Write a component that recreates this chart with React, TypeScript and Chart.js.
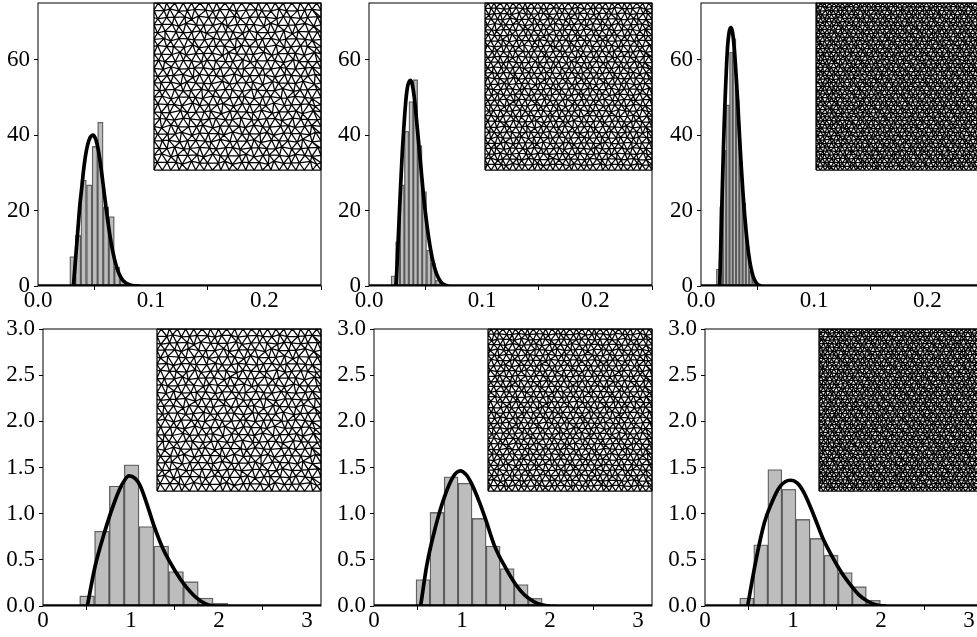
import React, { useEffect, useRef } from "react";
import { Chart, registerables } from "chart.js";

Chart.register(...registerables);

// ---- tick lists ----
const topXTicks = [0, 0.1, 0.2];
const topYTicks = [0, 20, 40, 60];
const bottomXTicks = [0, 1, 2, 3];
const bottomYTicks = [0, 0.5, 1, 1.5, 2, 2.5, 3];

// ---- panel A (top left) ----
const aBinX = [0.0305, 0.0354, 0.0403, 0.0453, 0.0502, 0.0551, 0.0601, 0.065, 0.0699, 0.0749];
const aBinY = [7.8, 13.4, 28.1, 26.8, 37, 43.4, 21, 18.4, 5, 1.6];
const aCurveX = [0.0313, 0.033, 0.035, 0.037, 0.039, 0.04, 0.042, 0.044, 0.046, 0.0484, 0.051, 0.053, 0.055, 0.0575, 0.06, 0.0625, 0.065, 0.0675, 0.07, 0.0725, 0.075, 0.08, 0.085, 0.09];
const aCurveY = [0, 6.5, 14, 21.5, 27, 30, 34.6, 37.6, 39.3, 40, 38.9, 36.5, 32.8, 27, 21, 15.5, 10.8, 7.2, 4.5, 2.7, 1.5, 0.4, 0.05, 0];

// ---- panel B (top middle) ----
const bBinX = [0.0214, 0.0254, 0.0293, 0.0332, 0.0372, 0.0411, 0.045, 0.0489, 0.0529, 0.0568, 0.0607];
const bBinY = [2.7, 11.7, 26.8, 41, 48.9, 54.7, 37.2, 25, 9.5, 6, 1.5];
const bCurveX = [0.0239, 0.025, 0.0265, 0.028, 0.0295, 0.031, 0.0325, 0.034, 0.0355, 0.0369, 0.0385, 0.04, 0.042, 0.044, 0.046, 0.048, 0.05, 0.052, 0.054, 0.056, 0.058, 0.06, 0.0625, 0.065, 0.07];
const bCurveY = [0, 7, 17, 27, 36, 43, 49, 52.7, 54.2, 54.5, 53, 50, 44, 37.5, 31, 24.5, 19, 14.3, 10.4, 7.2, 4.8, 3, 1.5, 0.6, 0];

// ---- panel C (top right) ----
const cBinX = [0.015, 0.0179, 0.0208, 0.0237, 0.0266, 0.0295, 0.0324, 0.0353, 0.0382, 0.0411, 0.044, 0.0469];
const cBinY = [4.5, 21, 36, 48, 62, 65.6, 49.4, 33, 22, 10, 4, 1.6];
const cCurveX = [0.0165, 0.0175, 0.0185, 0.0195, 0.0205, 0.0215, 0.0225, 0.0235, 0.025, 0.0265, 0.028, 0.0295, 0.031, 0.0325, 0.034, 0.0355, 0.037, 0.0385, 0.04, 0.042, 0.044, 0.046, 0.048, 0.05, 0.053];
const cCurveY = [0, 11, 22, 33, 43, 51, 58, 63.5, 67.5, 68.5, 67, 62.5, 56, 48.5, 40, 32, 25, 19, 14, 8.7, 5, 2.6, 1.2, 0.4, 0];

// ---- panel D (bottom left) ----
const dBinX = [0.501, 0.67, 0.838, 1.007, 1.176, 1.344, 1.513, 1.681, 1.85, 2.019];
const dBinY = [0.109, 0.81, 1.3, 1.53, 0.86, 0.65, 0.373, 0.264, 0.087, 0.029];
const dCurveX = [0.504, 0.59, 0.7, 0.807, 0.89, 0.977, 1.05, 1.106, 1.2, 1.261, 1.364, 1.515, 1.6, 1.742, 1.856, 1.95];
const dCurveY = [0, 0.42, 0.8, 1.11, 1.3, 1.41, 1.38, 1.3, 1.05, 0.87, 0.62, 0.36, 0.24, 0.09, 0.02, 0];

// ---- panel E (bottom middle) ----
const eBinX = [0.557, 0.716, 0.876, 1.035, 1.195, 1.354, 1.514, 1.673, 1.833, 1.992];
const eBinY = [0.286, 1.014, 1.4, 1.33, 0.949, 0.649, 0.406, 0.232, 0.083, 0.018];
const eCurveX = [0.53, 0.6, 0.7, 0.8, 0.9, 0.981, 1.05, 1.106, 1.2, 1.265, 1.371, 1.504, 1.617, 1.7, 1.758, 1.85, 1.95, 2.0];
const eCurveY = [0, 0.44, 0.86, 1.18, 1.4, 1.464, 1.42, 1.33, 1.12, 0.949, 0.649, 0.4, 0.225, 0.13, 0.083, 0.03, 0.004, 0];

// ---- panel F (bottom right) ----
const fBinX = [0.474, 0.634, 0.794, 0.954, 1.114, 1.274, 1.434, 1.594, 1.754, 1.914];
const fBinY = [0.087, 0.663, 1.478, 1.264, 0.938, 0.732, 0.551, 0.362, 0.21, 0.062];
const fCurveX = [0.485, 0.58, 0.674, 0.75, 0.85, 0.97, 1.05, 1.129, 1.242, 1.337, 1.443, 1.557, 1.678, 1.75, 1.83, 1.92, 2.0, 2.06];
const fCurveY = [0, 0.5, 0.9, 1.1, 1.29, 1.362, 1.33, 1.22, 0.97, 0.74, 0.54, 0.355, 0.2, 0.12, 0.062, 0.02, 0.003, 0];

// Number of triangle edges along one side of each inset mesh.
const meshSides = [20, 27, 38];

type Pt = { x: number; y: number };

// Stylised stand-in for the inset triangulations: a deterministic, warped triangular lattice.
function meshEdges(side: number): Pt[] {
  const rows = Math.round((side * 2) / Math.sqrt(3));
  const h = 1 / side;
  const grid: Pt[][] = [];
  for (let j = 0; j <= rows; j++) {
    const v = j / rows;
    const xs: number[] = [];
    if (j % 2 === 0) for (let i = 0; i <= side; i++) xs.push(i / side);
    else {
      xs.push(0);
      for (let i = 0; i < side; i++) xs.push((i + 0.5) / side);
      xs.push(1);
    }
    grid.push(
      xs.map((u, i) => {
        const inner = u > 0 && u < 1 && v > 0 && v < 1 ? 1 : 0;
        const dx = 0.14 * Math.sin(2.3 * i + 1.7 * j) + 0.1 * Math.cos(1.13 * i - 2.9 * j);
        const dy = 0.12 * Math.cos(1.9 * i + 2.41 * j) + 0.1 * Math.sin(3.07 * i - 0.83 * j);
        return { x: u + dx * h * inner, y: v + dy * h * inner };
      })
    );
  }
  const out: Pt[] = [];
  const seg = (a: Pt, b: Pt) => out.push(a, b, { x: NaN, y: NaN });
  grid.forEach((row, j) => {
    for (let i = 0; i + 1 < row.length; i++) seg(row[i], row[i + 1]);
    if (j + 1 < grid.length) {
      const next = grid[j + 1];
      let a = 0;
      let b = 0;
      seg(row[0], next[0]);
      while (a + 1 < row.length || b + 1 < next.length) {
        if (b + 1 >= next.length || (a + 1 < row.length && row[a + 1].x <= next[b + 1].x)) a++;
        else b++;
        seg(row[a], next[b]);
      }
    }
  });
  return out;
}

const AXIS_H = 31;
const PAD = 30;

type Panel = {
  binX: number[]; binY: number[]; curveX: number[]; curveY: number[];
  xMax: number; yMax: number; xTicks: number[]; yTicks: number[]; xDec: number; yDec: number;
  left: number; right: number; top: number; bottom: number; axisW: number;
  inset: { left: number; right: number; top: number; bottom: number }; mesh: number;
};

const PI_MAX = 3.16;
const panels: Panel[] = [
  { binX: aBinX, binY: aBinY, curveX: aCurveX, curveY: aCurveY, xMax: 0.25, yMax: 75, xTicks: topXTicks, yTicks: topYTicks, xDec: 1, yDec: 0, left: 38, right: 321, top: 3, bottom: 286, axisW: 38, inset: { left: 154, right: 321, top: 3, bottom: 170 }, mesh: 0 },
  { binX: bBinX, binY: bBinY, curveX: bCurveX, curveY: bCurveY, xMax: 0.25, yMax: 75, xTicks: topXTicks, yTicks: topYTicks, xDec: 1, yDec: 0, left: 369, right: 652, top: 3, bottom: 286, axisW: 38, inset: { left: 485, right: 652, top: 3, bottom: 170 }, mesh: 1 },
  { binX: cBinX, binY: cBinY, curveX: cCurveX, curveY: cCurveY, xMax: 0.25, yMax: 75, xTicks: topXTicks, yTicks: topYTicks, xDec: 1, yDec: 0, left: 701, right: 984, top: 3, bottom: 286, axisW: 38, inset: { left: 816, right: 984, top: 3, bottom: 170 }, mesh: 2 },
  { binX: dBinX, binY: dBinY, curveX: dCurveX, curveY: dCurveY, xMax: PI_MAX, yMax: 3, xTicks: bottomXTicks, yTicks: bottomYTicks, xDec: 0, yDec: 1, left: 43, right: 321, top: 329, bottom: 606, axisW: 38, inset: { left: 157, right: 321, top: 329, bottom: 491 }, mesh: 0 },
  { binX: eBinX, binY: eBinY, curveX: eCurveX, curveY: eCurveY, xMax: PI_MAX, yMax: 3, xTicks: bottomXTicks, yTicks: bottomYTicks, xDec: 0, yDec: 1, left: 374, right: 652, top: 329, bottom: 606, axisW: 38, inset: { left: 488, right: 652, top: 329, bottom: 491 }, mesh: 1 },
  { binX: fBinX, binY: fBinY, curveX: fCurveX, curveY: fCurveY, xMax: PI_MAX, yMax: 3, xTicks: bottomXTicks, yTicks: bottomYTicks, xDec: 0, yDec: 1, left: 705, right: 983, top: 329, bottom: 606, axisW: 38, inset: { left: 819, right: 983, top: 329, bottom: 491 }, mesh: 2 },
];

const frame = {
  id: "frame",
  afterDraw(chart: any) {
    const { left, top, width, height } = chart.chartArea;
    const c = chart.ctx;
    c.save();
    c.strokeStyle = "#000";
    c.lineWidth = 1;
    c.strokeRect(left, top, width, height);
    c.restore();
  },
};

const FONT = { family: "'Liberation Serif'", size: 23 };

function PanelChart({ p }: { p: Panel }) {
  const ref = useRef<HTMLCanvasElement>(null);
  const width = p.right - p.left + p.axisW + PAD * 2;
  const height = p.bottom - p.top + PAD + AXIS_H + 4;
  useEffect(() => {
    const axis = (ticks: number[], dec: number, max: number, pad: number, fit: (s: any) => void) => ({
      type: "linear",
      min: 0,
      max,
      offset: false,
      grid: { drawOnChartArea: false, drawTicks: true, tickLength: 4, color: "#000" },
      border: { display: false },
      afterBuildTicks: (s: any) => {
        s.ticks = ticks.map((value) => ({ value }));
      },
      afterFit: fit,
      ticks: {
        color: "#000",
        font: FONT,
        padding: pad,
        maxRotation: 0,
        autoSkip: false,
        includeBounds: false,
        callback: (v: number) => Number(v).toFixed(dec),
      },
    });
    const chart = new Chart(ref.current as HTMLCanvasElement, {
      type: "bar",
      data: {
        datasets: [
          {
            type: "line",
            data: p.curveX.map((x, i) => ({ x, y: p.curveY[i] })),
            borderColor: "#000",
            borderWidth: 3.7,
            pointRadius: 0,
            cubicInterpolationMode: "monotone",
            clip: 0,
            order: 0,
          },
          {
            type: "line",
            data: [
              { x: 0, y: 0 },
              { x: p.xMax, y: 0 },
            ],
            borderColor: "#000",
            borderWidth: 3.7,
            pointRadius: 0,
            clip: 0,
            order: 0,
          },
          {
            type: "bar",
            data: p.binX.map((x, i) => ({ x, y: p.binY[i] })),
            backgroundColor: "rgba(0,0,0,0.26)",
            borderColor: "rgba(0,0,0,0.55)",
            borderWidth: 0.7,
            borderSkipped: false,
            barPercentage: 1,
            categoryPercentage: 1,
            order: 1,
          },
        ],
      } as any,
      options: {
        animation: false,
        responsive: false,
        devicePixelRatio: 1,
        layout: { padding: { left: PAD, right: PAD, top: PAD, bottom: 4 } },
        plugins: { legend: { display: false }, tooltip: { enabled: false } },
        scales: {
          x: axis(p.xTicks, p.xDec, p.xMax, -3, (s: any) => { s.height = AXIS_H; }),
          y: axis(p.yTicks, p.yDec, p.yMax, 4, (s: any) => { s.width = p.axisW; }),
        },
      } as any,
      plugins: [frame],
    });
    return () => chart.destroy();
  }, []);
  return (
    <canvas
      ref={ref}
      width={width}
      height={height}
      style={{ position: "absolute", left: p.left - p.axisW - PAD, top: p.top - PAD, width, height }}
    />
  );
}

function InsetChart({ p }: { p: Panel }) {
  const ref = useRef<HTMLCanvasElement>(null);
  const { left, right, top, bottom } = p.inset;
  const width = right - left + 4;
  const height = bottom - top + 4;
  useEffect(() => {
    const hidden = { type: "linear", min: 0, max: 1, display: false, offset: false };
    const chart = new Chart(ref.current as HTMLCanvasElement, {
      type: "scatter",
      data: {
        datasets: [
          {
            data: meshEdges(meshSides[p.mesh]),
            showLine: true,
            spanGaps: false,
            borderColor: "#000",
            borderWidth: 1.25,
            pointRadius: 0,
            clip: 2,
          },
        ],
      } as any,
      options: {
        animation: false,
        responsive: false,
        devicePixelRatio: 1,
        layout: { padding: 2 },
        plugins: { legend: { display: false }, tooltip: { enabled: false } },
        scales: { x: hidden, y: hidden },
      } as any,
    });
    return () => chart.destroy();
  }, []);
  return (
    <canvas
      ref={ref}
      width={width}
      height={height}
      style={{ position: "absolute", left: left - 2, top: top - 2, width, height }}
    />
  );
}

export default function App() {
  return (
    <div style={{ position: "fixed", left: 0, top: 0, width: 977, height: 637, overflow: "hidden", background: "#fff" }}>
      {panels.map((p, i) => (
        <PanelChart key={i} p={p} />
      ))}
      {panels.map((p, i) => (
        <InsetChart key={"m" + i} p={p} />
      ))}
    </div>
  );
}
